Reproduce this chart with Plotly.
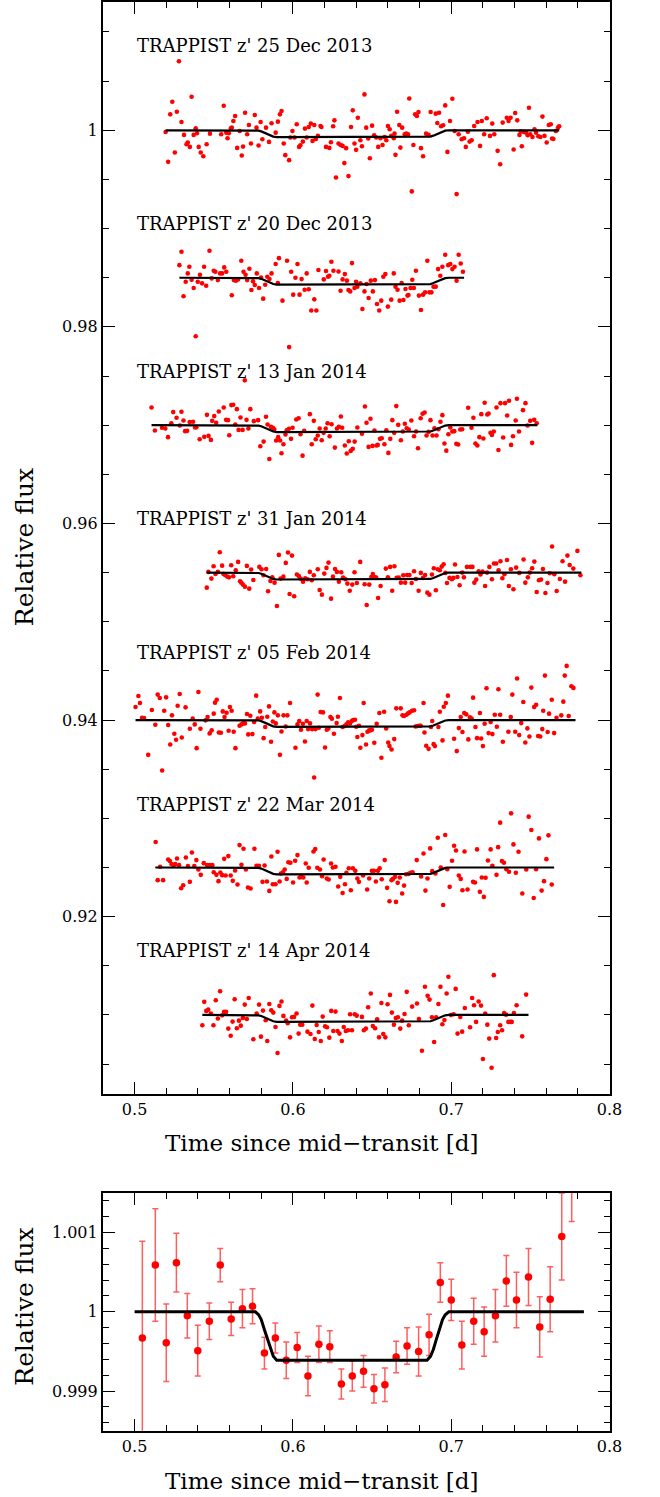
import plotly.graph_objects as go

# ---------------- data (time since mid-transit [d], flux residual in units of 1e-4) -------------
c1 = [(0.5196,-1.7),(0.5212,-32.1),(0.5225,16.2),(0.5238,29.1),(0.5254,-22.6),(0.5267,18.9),(0.5280,70.3),(0.5296,8.4),(0.5312,-4.7),(0.5328,-14.2),(0.5336,-12.5),(0.5349,-16.9),(0.5360,34.1),(0.5373,-4.7),(0.5386,2.0),(0.5394,-3.0),(0.5405,-16.9),(0.5418,-22.6),(0.5434,-26.4),(0.5455,-14.2),(0.5476,-3.4),(0.5547,-4.1),(0.5563,25.0),(0.5579,-2.4),(0.5587,-8.1),(0.5595,-3.0),(0.5608,2.0),(0.5614,2.7),(0.5624,9.5),(0.5635,14.5),(0.5648,-17.9),(0.5664,-0.7),(0.5677,-25.7),(0.5685,-16.6),(0.5698,17.9),(0.5711,-4.1),(0.5722,5.4),(0.5735,-13.5),(0.5759,15.5),(0.5770,2.7),(0.5783,-15.5),(0.5796,8.4),(0.5807,-9.1),(0.5830,2.7),(0.5849,-11.8),(0.5865,7.1),(0.5891,-2.4),(0.5905,8.8),(0.5918,16.2),(0.5928,19.6),(0.5942,-13.5),(0.5952,-25.3),(0.5976,-30.4),(0.5984,-7.4),(0.5997,-0.7),(0.6010,-7.4),(0.6024,6.1),(0.6039,-16.9),(0.6047,-15.2),(0.6063,-11.5),(0.6076,1.7),(0.6087,-7.4),(0.6100,3.4),(0.6113,6.8),(0.6124,-10.8),(0.6135,5.4),(0.6145,-8.8),(0.6158,-5.7),(0.6174,4.4),(0.6180,3.4),(0.6209,-16.9),(0.6230,-17.9),(0.6240,-12.2),(0.6254,4.1),(0.6262,10.1),(0.6272,-48.0),(0.6288,-13.5),(0.6301,-14.9),(0.6314,-15.9),(0.6325,-33.4),(0.6336,-18.2),(0.6351,-46.6),(0.6367,3.4),(0.6378,20.3),(0.6389,-13.5),(0.6399,-19.9),(0.6410,12.8),(0.6426,-10.1),(0.6436,-16.2),(0.6452,36.5),(0.6463,2.7),(0.6476,-8.4),(0.6486,-28.4),(0.6500,4.7),(0.6513,-5.1),(0.6526,-7.4),(0.6539,-16.9),(0.6553,-8.1),(0.6566,-14.9),(0.6579,-6.8),(0.6590,-10.1),(0.6600,4.4),(0.6611,1.0),(0.6621,-5.7),(0.6637,-8.1),(0.6642,-3.4),(0.6648,-25.0),(0.6658,18.9),(0.6672,5.4),(0.6679,-17.6),(0.6690,2.7),(0.6706,-4.1),(0.6716,-3.4),(0.6727,-4.1),(0.6735,32.4),(0.6751,-62.2),(0.6761,-14.9),(0.6772,16.2),(0.6783,14.5),(0.6793,18.6),(0.6809,-18.2),(0.6822,-26.4),(0.6841,-3.4),(0.6857,-4.7),(0.6870,18.6),(0.6902,16.9),(0.6912,7.4),(0.6923,17.9),(0.6936,4.1),(0.6949,5.1),(0.6962,25.3),(0.6976,-22.0),(0.6992,9.5),(0.7007,32.1),(0.7021,-0.7),(0.7034,-64.9),(0.7047,-4.1),(0.7066,-9.1),(0.7081,-8.1),(0.7092,-16.9),(0.7105,-1.4),(0.7116,-11.5),(0.7129,-10.1),(0.7145,4.4),(0.7166,8.4),(0.7182,-15.9),(0.7193,9.5),(0.7208,-4.1),(0.7224,12.2),(0.7245,-5.7),(0.7259,6.8),(0.7272,-4.1),(0.7293,-20.9),(0.7309,-34.5),(0.7325,7.8),(0.7351,12.8),(0.7362,9.5),(0.7375,12.8),(0.7394,-19.6),(0.7404,17.6),(0.7417,10.1),(0.7431,-4.7),(0.7439,-1.0),(0.7446,-16.2),(0.7457,-1.7),(0.7473,-2.4),(0.7483,-5.1),(0.7491,23.0),(0.7499,-4.1),(0.7513,-6.8),(0.7526,1.0),(0.7536,-2.4),(0.7550,-6.1),(0.7563,-6.8),(0.7576,13.9),(0.7589,-5.7),(0.7603,-12.5),(0.7616,5.4),(0.7629,6.1),(0.7637,-8.4),(0.7645,-8.8),(0.7661,-0.7),(0.7674,2.7),(0.7682,4.1)]

c2 = [(0.5283,12.8),(0.5296,26.4),(0.5309,-18.9),(0.5323,-4.1),(0.5336,4.4),(0.5346,11.1),(0.5360,-2.0),(0.5373,-10.5),(0.5386,-59.5),(0.5399,-4.1),(0.5413,3.0),(0.5426,-5.7),(0.5439,11.1),(0.5452,-8.1),(0.5473,27.4),(0.5487,-0.7),(0.5500,7.1),(0.5510,6.1),(0.5526,-2.4),(0.5540,4.4),(0.5553,4.4),(0.5566,10.5),(0.5579,6.1),(0.5614,-17.9),(0.5627,-2.4),(0.5640,-3.0),(0.5653,-1.7),(0.5674,17.2),(0.5688,6.1),(0.5701,3.0),(0.5711,-2.4),(0.5725,9.1),(0.5738,-12.5),(0.5748,-3.7),(0.5759,-7.4),(0.5772,4.4),(0.5786,-10.5),(0.5799,0.3),(0.5812,-21.3),(0.5825,-7.1),(0.5838,1.0),(0.5852,-1.4),(0.5865,4.4),(0.5891,13.9),(0.5905,-5.4),(0.5912,19.9),(0.5934,-23.3),(0.5963,17.2),(0.5976,-70.6),(0.5989,6.1),(0.6002,-17.2),(0.6016,0.0),(0.6029,13.9),(0.6042,-17.2),(0.6055,-1.4),(0.6074,-12.2),(0.6087,4.4),(0.6100,-11.8),(0.6116,-33.4),(0.6135,-22.0),(0.6148,-33.4),(0.6161,7.8),(0.6195,-1.7),(0.6209,6.8),(0.6222,1.0),(0.6230,2.0),(0.6243,16.2),(0.6256,7.1),(0.6288,6.4),(0.6301,-13.2),(0.6314,-1.7),(0.6328,3.7),(0.6341,-3.0),(0.6351,-12.5),(0.6362,-13.9),(0.6373,14.9),(0.6389,-10.5),(0.6399,-4.1),(0.6407,-9.1),(0.6426,-5.7),(0.6439,-31.8),(0.6452,-13.9),(0.6465,-6.4),(0.6478,-20.6),(0.6492,-3.0),(0.6505,-13.9),(0.6518,-2.4),(0.6531,-26.7),(0.6545,-33.4),(0.6558,-23.3),(0.6571,1.0),(0.6584,3.7),(0.6600,-29.4),(0.6621,-22.3),(0.6637,4.4),(0.6648,-9.1),(0.6661,-12.2),(0.6674,-23.3),(0.6687,-5.4),(0.6698,-22.6),(0.6711,-11.5),(0.6724,-18.2),(0.6730,-17.6),(0.6743,-10.5),(0.6754,-2.0),(0.6764,-10.5),(0.6777,7.1),(0.6796,-18.2),(0.6809,-32.8),(0.6822,-17.2),(0.6835,-14.9),(0.6849,17.2),(0.6862,-14.9),(0.6875,-14.9),(0.6888,-9.1),(0.6902,-9.1),(0.6917,8.8),(0.6931,2.0),(0.6944,11.1),(0.6962,23.3),(0.6981,12.8),(0.6994,13.9),(0.7007,8.8),(0.7021,11.1),(0.7034,-3.0),(0.7047,23.3),(0.7060,14.5),(0.7074,6.1)]

c3 = [(0.5107,18.0),(0.5128,-5.4),(0.5173,-2.7),(0.5194,-3.4),(0.5211,-12.2),(0.5232,2.0),(0.5244,13.3),(0.5265,7.5),(0.5286,-0.3),(0.5296,13.6),(0.5309,4.8),(0.5319,-6.1),(0.5332,-5.8),(0.5348,3.1),(0.5369,3.4),(0.5382,-2.4),(0.5390,-2.0),(0.5411,-14.3),(0.5440,-11.9),(0.5457,10.5),(0.5467,-10.9),(0.5482,-15.0),(0.5490,4.4),(0.5503,9.2),(0.5515,2.4),(0.5532,13.9),(0.5563,18.0),(0.5578,5.4),(0.5590,5.1),(0.5598,-10.2),(0.5611,20.4),(0.5623,20.7),(0.5636,0.7),(0.5646,16.3),(0.5657,-4.8),(0.5669,7.8),(0.5682,-4.8),(0.5696,45.6),(0.5707,5.4),(0.5719,-3.4),(0.5731,16.3),(0.5753,4.1),(0.5780,5.1),(0.5794,-21.4),(0.5815,-16.7),(0.5830,8.5),(0.5840,0.7),(0.5851,-34.4),(0.5861,-1.7),(0.5873,-2.7),(0.5882,-4.1),(0.5894,-15.6),(0.5907,-12.2),(0.5919,-15.6),(0.5928,-28.6),(0.5940,-19.4),(0.5953,-9.5),(0.5961,-5.1),(0.5975,-3.7),(0.5988,-13.9),(0.5998,-2.7),(0.6021,5.8),(0.6036,7.1),(0.6048,-9.2),(0.6061,-31.0),(0.6071,-5.8),(0.6107,11.2),(0.6119,-19.4),(0.6132,4.4),(0.6144,-14.3),(0.6157,-10.5),(0.6169,-3.4),(0.6182,-15.3),(0.6194,-7.8),(0.6207,-3.4),(0.6219,2.0),(0.6232,-11.2),(0.6244,1.0),(0.6265,-22.8),(0.6278,-3.4),(0.6290,-1.7),(0.6303,8.8),(0.6311,-2.7),(0.6328,-20.7),(0.6340,-28.9),(0.6353,-16.3),(0.6365,-26.2),(0.6378,-24.1),(0.6390,-16.7),(0.6407,-2.4),(0.6436,-8.8),(0.6455,19.0),(0.6465,2.4),(0.6478,-22.1),(0.6490,6.5),(0.6503,-21.1),(0.6515,-5.4),(0.6528,-20.7),(0.6536,-20.1),(0.6550,-13.9),(0.6561,-13.3),(0.6578,-19.4),(0.6590,-5.1),(0.6603,-28.2),(0.6615,-13.9),(0.6628,5.1),(0.6640,-7.8),(0.6653,19.4),(0.6665,0.3),(0.6682,-15.3),(0.6694,-6.5),(0.6707,1.4),(0.6719,-3.1),(0.6732,-4.4),(0.6748,4.8),(0.6765,-11.2),(0.6778,-6.5),(0.6790,-23.5),(0.6807,7.1),(0.6819,11.6),(0.6832,12.9),(0.6844,-10.5),(0.6857,-6.8),(0.6869,5.1),(0.6882,-10.5),(0.6894,-3.1),(0.6907,-10.5),(0.6919,-4.1),(0.6932,3.4),(0.6944,10.2),(0.6957,-18.7),(0.6969,-25.9),(0.6982,-9.2),(0.6994,-2.4),(0.7007,-6.5),(0.7019,-6.1),(0.7032,-19.0),(0.7044,-19.7),(0.7057,-4.4),(0.7069,-4.1),(0.7107,17.7),(0.7128,-2.7),(0.7140,7.5),(0.7153,-18.7),(0.7165,-20.7),(0.7178,-12.2),(0.7190,11.2),(0.7203,-13.6),(0.7211,22.8),(0.7228,10.9),(0.7236,11.9),(0.7248,-7.8),(0.7257,-9.9),(0.7269,-6.5),(0.7286,18.0),(0.7298,-25.2),(0.7311,22.4),(0.7328,-12.6),(0.7340,22.4),(0.7353,9.9),(0.7365,24.8),(0.7378,-20.1),(0.7390,-11.2),(0.7407,4.8),(0.7415,26.9),(0.7428,-6.5),(0.7453,15.3),(0.7469,22.4),(0.7482,-0.3),(0.7499,4.4),(0.7511,-18.0),(0.7524,5.4),(0.7540,2.0)]

c4 = [(0.5456,-15.3),(0.5466,0.7),(0.5485,-6.1),(0.5499,6.5),(0.5511,-1.4),(0.5526,0.7),(0.5538,20.7),(0.5553,7.1),(0.5561,-1.4),(0.5573,-2.7),(0.5586,-4.1),(0.5596,-4.8),(0.5610,7.5),(0.5623,-3.7),(0.5639,2.4),(0.5654,10.9),(0.5666,-8.8),(0.5674,-10.2),(0.5684,-12.2),(0.5697,-14.3),(0.5709,6.8),(0.5724,-16.3),(0.5736,3.1),(0.5750,-7.5),(0.5788,5.8),(0.5802,3.4),(0.5814,-2.7),(0.5831,3.7),(0.5843,-19.0),(0.5858,-8.5),(0.5870,-4.8),(0.5884,-10.2),(0.5899,-34.0),(0.5911,18.0),(0.5922,-6.1),(0.5940,-4.1),(0.5955,9.9),(0.5969,20.4),(0.5979,-21.8),(0.5994,17.3),(0.6008,-24.1),(0.6025,-2.0),(0.6037,-3.4),(0.6049,-6.1),(0.6064,-9.2),(0.6078,-5.8),(0.6093,-6.8),(0.6107,0.7),(0.6119,-7.8),(0.6132,-2.7),(0.6157,3.4),(0.6169,-17.7),(0.6183,-22.4),(0.6198,-1.0),(0.6212,4.8),(0.6225,10.2),(0.6241,-26.5),(0.6253,-4.1),(0.6266,3.7),(0.6278,0.7),(0.6290,-9.2),(0.6305,0.3),(0.6317,-5.1),(0.6332,-6.8),(0.6344,-11.2),(0.6359,-18.4),(0.6375,-12.2),(0.6389,0.3),(0.6404,-10.5),(0.6425,10.9),(0.6453,-11.9),(0.6466,-33.0),(0.6482,-12.2),(0.6495,-4.4),(0.6505,-1.4),(0.6515,-4.4),(0.6526,-5.1),(0.6538,-25.9),(0.6554,-13.6),(0.6587,4.1),(0.6600,-4.8),(0.6614,5.8),(0.6627,-18.4),(0.6641,6.5),(0.6655,-5.4),(0.6668,-5.1),(0.6682,-10.2),(0.6697,-2.7),(0.6709,-10.2),(0.6721,-2.4),(0.6736,-2.4),(0.6750,-10.5),(0.6765,1.4),(0.6777,-6.5),(0.6794,-18.4),(0.6808,-0.3),(0.6822,-5.4),(0.6835,-2.4),(0.6849,-20.4),(0.6862,-22.4),(0.6878,-2.0),(0.6890,4.4),(0.6903,-18.0),(0.6915,3.4),(0.6928,2.4),(0.6940,6.1),(0.6952,8.5),(0.6963,-0.3),(0.6973,-10.5),(0.6989,-5.4),(0.7004,-6.8),(0.7014,-5.4),(0.7024,8.2),(0.7039,-4.4),(0.7053,-12.9),(0.7070,0.0),(0.7080,-4.8),(0.7099,5.8),(0.7121,5.8),(0.7134,5.8),(0.7146,-10.2),(0.7158,-7.1),(0.7173,1.4),(0.7185,-2.0),(0.7198,1.0),(0.7214,-13.6),(0.7226,0.0),(0.7241,5.8),(0.7257,-6.8),(0.7270,9.2),(0.7284,9.2),(0.7299,2.4),(0.7311,11.6),(0.7323,-5.8),(0.7336,-1.7),(0.7352,12.9),(0.7364,-13.6),(0.7377,3.4),(0.7393,-17.0),(0.7410,5.1),(0.7430,-0.3),(0.7457,13.3),(0.7468,-10.2),(0.7484,-4.8),(0.7496,0.0),(0.7511,4.4),(0.7525,11.2),(0.7540,-19.7),(0.7554,-7.8),(0.7567,-7.1),(0.7579,3.7),(0.7595,-20.7),(0.7608,-10.5),(0.7622,-0.7),(0.7637,26.5),(0.7651,-1.7),(0.7666,-18.7),(0.7686,-6.5),(0.7703,11.6),(0.7719,-9.2),(0.7734,17.3),(0.7748,7.8),(0.7771,4.1),(0.7797,22.1),(0.7816,-2.7)]

c5 = [(0.5006,13.3),(0.5024,24.5),(0.5034,17.3),(0.5047,2.4),(0.5060,2.0),(0.5086,-35.4),(0.5109,10.2),(0.5131,-4.8),(0.5146,25.9),(0.5159,22.4),(0.5174,-51.4),(0.5187,9.5),(0.5199,23.1),(0.5212,-5.1),(0.5225,-24.8),(0.5236,4.8),(0.5251,-13.9),(0.5262,-20.1),(0.5272,14.6),(0.5285,26.5),(0.5298,-17.7),(0.5322,12.9),(0.5349,-8.8),(0.5367,1.4),(0.5380,-4.4),(0.5392,-28.6),(0.5403,28.6),(0.5416,-8.8),(0.5448,-0.3),(0.5461,3.1),(0.5474,-13.6),(0.5487,-10.5),(0.5500,6.5),(0.5508,17.7),(0.5519,20.7),(0.5532,-12.6),(0.5545,-12.9),(0.5557,8.8),(0.5568,3.1),(0.5581,7.5),(0.5594,-10.9),(0.5602,13.3),(0.5613,9.5),(0.5626,-11.9),(0.5637,-28.6),(0.5663,-5.8),(0.5675,-4.4),(0.5686,-3.4),(0.5697,-3.4),(0.5710,6.1),(0.5718,-14.6),(0.5731,4.4),(0.5744,-14.3),(0.5755,-2.0),(0.5768,24.8),(0.5778,1.4),(0.5793,8.8),(0.5804,2.4),(0.5815,-18.4),(0.5825,-7.1),(0.5838,3.4),(0.5849,13.9),(0.5862,-22.1),(0.5873,-1.4),(0.5883,7.8),(0.5892,-3.4),(0.5905,4.8),(0.5918,-35.4),(0.5928,-11.6),(0.5941,4.8),(0.5954,-6.5),(0.5965,4.8),(0.5982,17.3),(0.6016,-28.2),(0.6029,-4.4),(0.6040,-1.0),(0.6051,-9.9),(0.6063,-3.7),(0.6076,-21.8),(0.6087,-1.0),(0.6096,-9.2),(0.6108,-3.4),(0.6121,-9.2),(0.6134,-58.5),(0.6143,-9.2),(0.6156,25.9),(0.6164,-7.8),(0.6175,8.2),(0.6190,7.8),(0.6203,-27.9),(0.6214,-9.9),(0.6224,-8.5),(0.6237,3.1),(0.6246,1.4),(0.6259,-13.9),(0.6276,-3.1),(0.6284,3.4),(0.6297,22.4),(0.6314,-7.1),(0.6327,-6.1),(0.6338,-4.4),(0.6349,-2.4),(0.6361,-3.4),(0.6372,-1.0),(0.6381,0.0),(0.6392,0.3),(0.6400,-6.8),(0.6407,-17.3),(0.6417,-5.8),(0.6426,-28.2),(0.6439,-15.3),(0.6447,17.3),(0.6462,-24.8),(0.6471,-11.9),(0.6482,-10.5),(0.6490,-10.5),(0.6499,-9.9),(0.6514,-23.1),(0.6529,-3.7),(0.6546,7.1),(0.6559,-38.4),(0.6576,8.5),(0.6589,-8.5),(0.6602,-22.8),(0.6610,-26.5),(0.6623,-29.9),(0.6640,-19.4),(0.6653,11.9),(0.6681,11.9),(0.6692,4.8),(0.6702,4.1),(0.6717,5.4),(0.6728,6.8),(0.6737,7.8),(0.6752,9.5),(0.6765,9.9),(0.6775,-6.5),(0.6786,-6.1),(0.6799,-5.8),(0.6807,-5.8),(0.6825,17.3),(0.6831,-12.6),(0.6842,-26.2),(0.6857,-29.3),(0.6872,-7.1),(0.6880,-1.0),(0.6889,-24.5),(0.6897,-26.5),(0.6919,-7.1),(0.6928,8.5),(0.6945,-20.7),(0.6953,13.6),(0.6966,17.3),(0.6979,24.8),(0.7018,-19.0),(0.7035,-31.6),(0.7048,-8.2),(0.7060,3.1),(0.7071,-12.2),(0.7082,7.1),(0.7095,5.8),(0.7108,-19.7),(0.7118,2.7),(0.7129,1.4),(0.7138,22.8),(0.7153,-7.1),(0.7163,-18.4),(0.7181,7.1),(0.7189,-18.7),(0.7200,-26.5),(0.7211,-3.7),(0.7223,32.3),(0.7236,-13.3),(0.7249,-2.0),(0.7260,-14.3),(0.7275,5.4),(0.7288,-6.8),(0.7298,31.3),(0.7309,5.4),(0.7326,-22.1),(0.7361,-11.9),(0.7376,3.1),(0.7386,25.9),(0.7404,-11.9),(0.7416,42.2),(0.7429,-15.3),(0.7442,-3.1),(0.7455,18.4),(0.7468,-22.8),(0.7481,-8.5),(0.7494,-16.7),(0.7506,33.0),(0.7524,13.3),(0.7536,15.6),(0.7549,-16.3),(0.7562,-16.7),(0.7575,-9.2),(0.7581,9.5),(0.7592,45.2),(0.7609,-12.2),(0.7618,6.5),(0.7635,20.7),(0.7650,-13.3),(0.7665,2.4),(0.7695,4.8),(0.7708,18.7),(0.7717,45.2),(0.7729,55.1),(0.7742,4.1),(0.7759,34.4),(0.7772,32.7)]

c6 = [(0.5133,25.9),(0.5146,-12.9),(0.5161,0.7),(0.5180,-12.9),(0.5212,8.2),(0.5223,6.5),(0.5234,3.4),(0.5247,2.4),(0.5257,3.4),(0.5268,9.2),(0.5281,2.4),(0.5294,-21.1),(0.5307,-18.0),(0.5324,10.2),(0.5337,1.4),(0.5349,-14.6),(0.5362,15.3),(0.5377,1.4),(0.5390,7.5),(0.5403,-2.0),(0.5418,-7.5),(0.5437,4.4),(0.5459,2.4),(0.5476,2.4),(0.5491,2.4),(0.5500,-4.8),(0.5517,-7.5),(0.5530,-13.9),(0.5542,-5.1),(0.5553,-7.8),(0.5566,8.8),(0.5575,-8.2),(0.5592,11.6),(0.5607,-8.2),(0.5620,-13.6),(0.5635,-3.1),(0.5650,-17.3),(0.5663,22.8),(0.5675,2.7),(0.5688,19.0),(0.5703,-2.0),(0.5716,-20.4),(0.5733,-21.4),(0.5757,19.0),(0.5770,1.7),(0.5785,1.7),(0.5808,-14.6),(0.5821,2.0),(0.5836,-14.3),(0.5851,-23.8),(0.5864,11.2),(0.5873,-17.0),(0.5890,-17.0),(0.5903,16.0),(0.5916,-14.3),(0.5924,-6.1),(0.5937,-4.8),(0.5948,-2.0),(0.5961,-11.6),(0.5971,5.4),(0.5984,4.8),(0.6001,-15.3),(0.6014,6.8),(0.6029,12.6),(0.6042,-10.2),(0.6053,-9.5),(0.6066,-10.2),(0.6081,4.1),(0.6087,-15.3),(0.6100,-0.3),(0.6130,16.3),(0.6141,18.7),(0.6154,-0.3),(0.6171,-2.0),(0.6184,-8.8),(0.6194,8.2),(0.6214,-11.2),(0.6226,-12.2),(0.6241,4.1),(0.6252,0.0),(0.6269,0.7),(0.6286,-19.4),(0.6299,-9.5),(0.6314,-25.9),(0.6329,-17.0),(0.6338,-5.4),(0.6353,-0.7),(0.6366,-23.1),(0.6379,-0.7),(0.6394,-3.4),(0.6407,-11.2),(0.6417,-14.6),(0.6443,-8.2),(0.6469,-22.4),(0.6482,-11.2),(0.6499,-3.4),(0.6512,-3.4),(0.6524,-14.3),(0.6537,-3.4),(0.6548,-0.7),(0.6561,-11.9),(0.6580,7.5),(0.6595,-20.7),(0.6610,-34.4),(0.6623,-12.9),(0.6632,-11.6),(0.6645,-9.5),(0.6651,-35.0),(0.6662,-15.6),(0.6675,-10.2),(0.6690,-26.5),(0.6702,-18.4),(0.6715,-6.8),(0.6730,-6.5),(0.6743,-5.4),(0.6756,-4.8),(0.6782,7.5),(0.6810,-9.2),(0.6825,14.3),(0.6837,-23.5),(0.6850,-11.2),(0.6867,19.4),(0.6880,-3.7),(0.6900,-6.1),(0.6915,30.3),(0.6934,0.0),(0.6949,-38.1),(0.6962,33.0),(0.6975,-1.7),(0.6990,-19.7),(0.7005,6.8),(0.7018,22.1),(0.7030,17.3),(0.7048,-8.2),(0.7060,-11.6),(0.7071,-23.1),(0.7084,16.3),(0.7103,-22.4),(0.7138,-14.6),(0.7150,-15.3),(0.7163,18.4),(0.7181,-24.8),(0.7193,-10.2),(0.7206,-29.9),(0.7217,-10.5),(0.7232,7.1),(0.7249,18.4),(0.7260,1.7),(0.7286,-7.5),(0.7296,20.7),(0.7309,45.6),(0.7320,6.5),(0.7333,4.8),(0.7348,-1.7),(0.7365,-4.4),(0.7378,55.1),(0.7393,23.5),(0.7408,-5.4),(0.7425,16.0),(0.7449,-26.5),(0.7474,-2.0),(0.7489,51.7),(0.7506,38.1),(0.7521,-31.0),(0.7536,-1.7),(0.7554,29.6),(0.7571,-23.5),(0.7586,-13.9),(0.7601,8.5),(0.7614,32.7),(0.7635,-17.3)]

c7 = [(0.5428,-10.5),(0.5440,13.3),(0.5453,4.1),(0.5465,5.4),(0.5482,1.4),(0.5498,-10.5),(0.5513,15.0),(0.5526,-3.7),(0.5540,24.1),(0.5553,-0.3),(0.5565,3.1),(0.5578,3.1),(0.5592,-13.9),(0.5607,-21.1),(0.5619,-6.8),(0.5632,16.0),(0.5646,-13.6),(0.5659,-5.8),(0.5671,-10.9),(0.5684,-3.1),(0.5696,10.5),(0.5709,-4.1),(0.5721,17.3),(0.5750,-24.8),(0.5771,1.4),(0.5786,10.5),(0.5798,-22.1),(0.5811,4.4),(0.5828,-5.4),(0.5838,-26.5),(0.5851,11.2),(0.5863,4.8),(0.5876,2.4),(0.5890,-12.2),(0.5903,-38.8),(0.5915,9.2),(0.5928,13.6),(0.5940,-1.0),(0.5957,-5.8),(0.5967,-8.5),(0.5982,-22.8),(0.5994,-2.4),(0.6007,-2.0),(0.6023,1.4),(0.6036,-19.0),(0.6046,-9.9),(0.6059,-9.9),(0.6092,-17.0),(0.6111,-19.4),(0.6123,9.5),(0.6138,-24.5),(0.6150,-10.2),(0.6163,-17.3),(0.6176,-26.5),(0.6188,-1.7),(0.6203,-11.6),(0.6215,-12.6),(0.6230,-23.1),(0.6242,4.1),(0.6255,-16.3),(0.6269,3.4),(0.6282,-16.3),(0.6294,-19.0),(0.6309,-26.5),(0.6321,-12.2),(0.6334,-16.3),(0.6348,-15.6),(0.6361,0.7),(0.6373,-15.6),(0.6390,0.7),(0.6403,-0.7),(0.6436,-2.0),(0.6448,-15.6),(0.6461,-13.9),(0.6475,7.8),(0.6492,21.8),(0.6505,-11.2),(0.6519,-13.6),(0.6532,-4.4),(0.6544,-22.8),(0.6559,12.2),(0.6571,-19.4),(0.6584,-22.8),(0.6598,10.9),(0.6613,20.4),(0.6625,2.4),(0.6638,-9.9),(0.6650,-3.1),(0.6663,-2.4),(0.6678,-13.9),(0.6690,-5.8),(0.6705,1.0),(0.6719,23.5),(0.6732,-10.5),(0.6753,8.5),(0.6784,11.6),(0.6796,-4.1),(0.6815,-36.4),(0.6834,28.6),(0.6851,19.4),(0.6863,15.6),(0.6878,-2.4),(0.6892,-27.6),(0.6905,-2.4),(0.6919,11.2),(0.6932,28.6),(0.6944,-9.5),(0.6957,-5.1),(0.6971,21.8),(0.6982,38.8),(0.6998,0.0),(0.7015,0.7),(0.7028,26.5),(0.7040,-19.0),(0.7057,-2.0),(0.7069,-17.0),(0.7086,7.1),(0.7119,-12.6),(0.7132,17.3),(0.7144,9.9),(0.7157,-7.1),(0.7173,13.6),(0.7188,9.5),(0.7200,-44.9),(0.7215,1.4),(0.7228,-9.9),(0.7240,-24.1),(0.7255,-53.7),(0.7269,40.5),(0.7284,-23.5),(0.7294,-17.3),(0.7309,-10.5),(0.7321,-15.6),(0.7334,2.0),(0.7346,0.3),(0.7361,-7.1),(0.7373,-7.1),(0.7382,-7.1),(0.7396,2.0),(0.7413,9.9),(0.7448,-21.8),(0.7473,20.7)]

curves = [c1, c2, c3, c4, c5, c6, c7]
offsets = [1.000, 0.985, 0.970, 0.955, 0.940, 0.925, 0.910]
labels = ["TRAPPIST z' 25 Dec 2013", "TRAPPIST z' 20 Dec 2013", "TRAPPIST z' 13 Jan 2014",
          "TRAPPIST z' 31 Jan 2014", "TRAPPIST z' 05 Feb 2014", "TRAPPIST z' 22 Mar 2014",
          "TRAPPIST z' 14 Apr 2014"]
label_flux = [1.0086, 0.9905, 0.9755, 0.9605, 0.9469, 0.9314, 0.9166]
model_span = [(0.5196, 0.7682), (0.5283, 0.7081), (0.5107, 0.7544), (0.5456, 0.7822),
              (0.5006, 0.7785), (0.5131, 0.7650), (0.5428, 0.7488)]

# transit model: knot times and fraction of full depth
model_t = [0.5763, 0.5783, 0.5800, 0.5820, 0.5840, 0.5858, 0.5876, 0.5898,
           0.6847, 0.6869, 0.6887, 0.6905, 0.6925, 0.6945, 0.6962, 0.6985]
model_frac = [0, 0.06, 0.16, 0.37, 0.58, 0.78, 0.92, 1, 1, 0.92, 0.78, 0.58, 0.37, 0.16, 0.06, 0]
depth_top = 0.0007
depth_bottom = 0.00061
bottom_span = (0.5, 0.7838)

# binned combined light curve
bin_t = [0.5049,0.5131,0.5200,0.5264,0.5333,0.5399,0.5472,0.5541,0.5610,0.5681,0.5745,0.5820,0.5889,0.5958,0.6027,0.6095,0.6164,0.6233,0.6306,0.6375,0.6446,0.6512,0.6581,0.6652,0.6721,0.6794,0.6860,0.6931,0.7000,0.7067,0.7142,0.7208,0.7279,0.7348,0.7412,0.7488,0.7559,0.7625,0.7698,0.7761]
bin_f = [0.99967,1.00059,0.99961,1.00062,0.99995,0.99951,0.99988,1.00059,0.99991,1.00004,1.00007,0.99948,0.99967,0.99939,0.99955,0.99919,0.99959,0.99956,0.99909,0.99919,0.99925,0.99903,0.99908,0.99943,0.99957,0.99950,0.99971,1.00037,1.00015,0.99958,0.99988,0.99975,0.99995,1.00039,1.00015,1.00044,0.99981,1.00016,1.00095,1.00172]
bin_e = [0.00122,0.00071,0.00049,0.00037,0.00028,0.00032,0.00023,0.00021,0.00021,0.00024,0.00022,0.00020,0.00019,0.00023,0.00019,0.00025,0.00023,0.00020,0.00019,0.00019,0.00020,0.00018,0.00021,0.00020,0.00023,0.00031,0.00026,0.00025,0.00026,0.00030,0.00029,0.00031,0.00033,0.00032,0.00035,0.00036,0.00038,0.00041,0.00055,0.00058]

# ---------------- figure ----------------
W, H = 660, 1497
FONT = "DejaVu Serif"
RED = "#ff0000"


def model_path(t0, t1, depth, base):
    xs = [t0] + [t for t in model_t if t0 < t < t1] + [t1]
    fr = [0] + [f for t, f in zip(model_t, model_frac) if t0 < t < t1] + [0]
    return xs, [base - depth * f for f in fr]


fig = go.Figure()
for pts, off, span in zip(curves, offsets, model_span):
    ts = [p[0] for p in pts]
    fs = [off + p[1] * 1e-4 for p in pts]
    fig.add_trace(go.Scatter(x=ts, y=fs, mode="markers", xaxis="x", yaxis="y",
                             marker=dict(color=RED, size=4.6, line=dict(width=0)),
                             showlegend=False, hoverinfo="skip"))
    mx, my = model_path(span[0], span[1], depth_top, off)
    fig.add_trace(go.Scatter(x=mx, y=my, mode="lines", xaxis="x", yaxis="y",
                             line=dict(color="black", width=2.2), showlegend=False,
                             hoverinfo="skip"))

fig.add_trace(go.Scatter(x=bin_t, y=bin_f, mode="markers", xaxis="x2", yaxis="y2",
                         marker=dict(color=RED, size=7.5, line=dict(width=0)),
                         error_y=dict(type="data", array=bin_e, visible=True,
                                      color="rgba(255,40,40,0.75)", thickness=1.5, width=3),
                         showlegend=False, hoverinfo="skip"))
mx, my = model_path(bottom_span[0], bottom_span[1], depth_bottom, 1.0)
fig.add_trace(go.Scatter(x=mx, y=my, mode="lines", xaxis="x2", yaxis="y2",
                         line=dict(color="black", width=3), showlegend=False,
                         hoverinfo="skip"))

x_dom = [105 / W, 621.8 / W]
top_dom = [1 - 1093.3 / H, 1 - 1.5 / H]
bot_dom = [1 - 1430.7 / H, 1 - 1192.7 / H]

common = dict(showgrid=False, zeroline=False, showline=True, linecolor="black",
              linewidth=2, mirror="allticks", ticks="inside", tickcolor="black",
              tickwidth=1.3, ticklen=12,
              tickfont=dict(family=FONT, size=16, color="black"))

fig.update_layout(
    width=W, height=H, margin=dict(l=0, r=0, t=0, b=0),
    paper_bgcolor="white", plot_bgcolor="white",
    xaxis=dict(domain=x_dom, range=[0.48, 0.8], anchor="y", tickmode="linear",
               tick0=0.5, dtick=0.1,
               minor=dict(ticks="inside", tickmode="linear", tick0=0.48, dtick=0.02,
                          ticklen=6, tickcolor="black", tickwidth=1.3),
               **common),
    yaxis=dict(domain=top_dom, range=[0.9020, 1.0130], anchor="x", tickmode="linear",
               tick0=1.0, dtick=0.02,
               minor=dict(ticks="inside", tickmode="linear", tick0=1.0, dtick=0.005,
                          ticklen=6, tickcolor="black", tickwidth=1.3),
               **common),
    xaxis2=dict(domain=x_dom, range=[0.48, 0.8], anchor="y2", tickmode="linear",
                tick0=0.5, dtick=0.1,
                minor=dict(ticks="inside", tickmode="linear", tick0=0.48, dtick=0.02,
                           ticklen=6, tickcolor="black", tickwidth=1.3),
                **common),
    yaxis2=dict(domain=bot_dom, range=[0.9985, 1.0015], anchor="x2", tickmode="linear",
                tick0=1.0, dtick=0.001,
                minor=dict(ticks="inside", tickmode="linear", tick0=1.0, dtick=0.0002,
                           ticklen=6, tickcolor="black", tickwidth=1.3),
                **common),
)

ann = []
for lab, ly in zip(labels, label_flux):
    ann.append(dict(x=0.5, y=ly, xref="x", yref="y", text=lab, showarrow=False,
                    xanchor="left", yanchor="middle",
                    font=dict(family=FONT, size=18, color="black")))
title_font = dict(family=FONT, size=23, color="black")
ytitle_font = dict(family=FONT, size=25, color="black")
ann.append(dict(x=166 / W, y=1 - 1143 / H, xref="paper", yref="paper",
                text="Time since mid\u2212transit [d]", showarrow=False,
                xanchor="left", yanchor="middle", font=title_font))
ann.append(dict(x=166 / W, y=1 - 1481 / H, xref="paper", yref="paper",
                text="Time since mid\u2212transit [d]", showarrow=False,
                xanchor="left", yanchor="middle", font=title_font))
ann.append(dict(x=25 / W, y=1 - 547 / H, xref="paper", yref="paper",
                text="Relative flux", showarrow=False, textangle=-90,
                xanchor="center", yanchor="middle", font=ytitle_font))
ann.append(dict(x=25 / W, y=1 - 1307 / H, xref="paper", yref="paper",
                text="Relative flux", showarrow=False, textangle=-90,
                xanchor="center", yanchor="middle", font=ytitle_font))
fig.update_layout(annotations=ann)

fig.write_html("out.html")
